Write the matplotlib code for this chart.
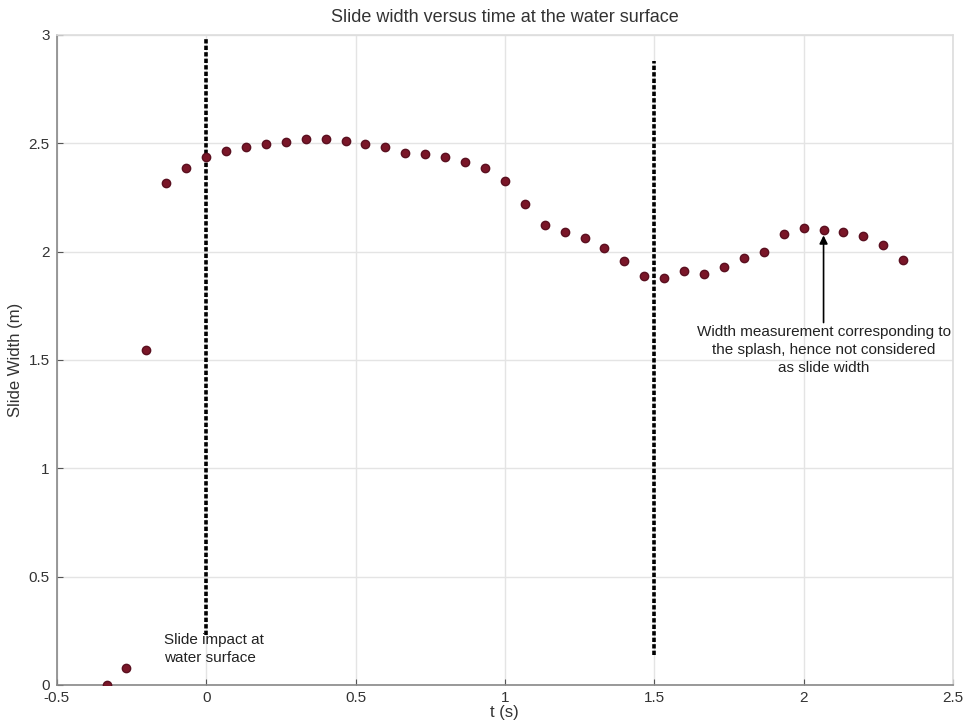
import matplotlib.pyplot as plt

plt.rcParams['font.family'] = ['Liberation Sans', 'DejaVu Sans']

# time (s) and measured slide width (m)
t = [-0.333, -0.267, -0.200, -0.133, -0.067, 0.000, 0.067, 0.133, 0.200, 0.267,
     0.333, 0.400, 0.467, 0.533, 0.600, 0.667, 0.733, 0.800, 0.867, 0.933,
     1.000, 1.067, 1.133, 1.200, 1.267, 1.333, 1.400, 1.467, 1.533, 1.600,
     1.667, 1.733, 1.800, 1.867, 1.933, 2.000, 2.067, 2.133, 2.200, 2.267,
     2.333]
width = [0.00, 0.078, 1.546, 2.319, 2.384, 2.437, 2.464, 2.481, 2.495, 2.507,
         2.521, 2.521, 2.512, 2.497, 2.484, 2.456, 2.450, 2.437, 2.413, 2.384,
         2.327, 2.218, 2.123, 2.092, 2.063, 2.017, 1.957, 1.887, 1.880, 1.910,
         1.898, 1.929, 1.970, 1.998, 2.081, 2.110, 2.101, 2.092, 2.072, 2.030,
         1.961]

# dashed markers: impact time and end of valid measurement
impact_t = 0.0
splash_t = 1.5

fig = plt.figure(figsize=(9.63, 7.23), dpi=100)
ax = fig.add_axes([0.059, 0.0526, 0.9305, 0.899])

ax.plot(t, width, 'o', color='#7a1628', markeredgecolor='#5a1020',
        markersize=6, zorder=3)

ax.plot([impact_t, impact_t], [0.23, 2.98], color='black', lw=2.6,
        ls=(0, (1.2, 0.6)), zorder=2)
ax.plot([splash_t, splash_t], [0.14, 2.88], color='black', lw=2.6,
        ls=(0, (1.2, 0.6)), zorder=2)

ax.text(-0.14, 0.165, 'Slide impact at\nwater surface', fontsize=11,
        color='#222222', ha='left', va='center', linespacing=1.35)

ax.annotate('Width measurement corresponding to\nthe splash, hence not considered\nas slide width',
            xy=(2.067, 2.075), xytext=(2.067, 1.66), fontsize=11,
            color='#222222', ha='center', va='top', linespacing=1.35,
            arrowprops=dict(arrowstyle='-|>', color='black', lw=1.2,
                            mutation_scale=12, shrinkA=0, shrinkB=0))

ax.set_xlim(-0.5, 2.5)
ax.set_ylim(0, 3)
ax.set_xticks([-0.5, 0, 0.5, 1, 1.5, 2, 2.5])
ax.set_xticklabels(['-0.5', '0', '0.5', '1', '1.5', '2', '2.5'])
ax.set_yticks([0, 0.5, 1, 1.5, 2, 2.5, 3])
ax.set_yticklabels(['0', '0.5', '1', '1.5', '2', '2.5', '3'])
ax.grid(True, color='#e4e4e4', lw=1)
ax.set_axisbelow(True)
ax.tick_params(direction='in', length=4, labelsize=11, colors='#555555',
               labelcolor='#333333')
ax.tick_params(axis='x', pad=4)
ax.tick_params(axis='y', pad=5)

for side in ['left', 'bottom']:
    ax.spines[side].set_color('#888888')
    ax.spines[side].set_linewidth(1.2)
for side in ['top', 'right']:
    ax.spines[side].set_color('#dddddd')
    ax.spines[side].set_linewidth(1.2)

ax.set_title('Slide width versus time at the water surface', fontsize=13,
             color='#333333', pad=9)
ax.set_xlabel('t (s)', fontsize=12, color='#333333', labelpad=0)
ax.set_ylabel('Slide Width (m)', fontsize=12, color='#333333', labelpad=4)

fig.savefig('out.png', dpi=100)
